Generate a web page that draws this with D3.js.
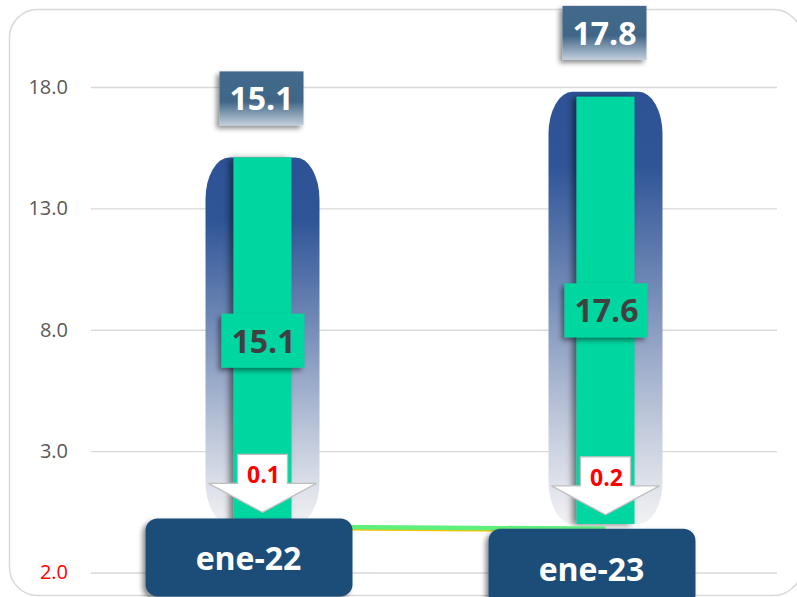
<!DOCTYPE html>
<html>
<head>
<meta charset="utf-8">
<script src="https://cdn.jsdelivr.net/npm/d3@7"></script>
<style>
  html, body { margin: 0; padding: 0; background: #fff; }
  svg { display: block; font-family: 'Open Sans', 'Liberation Sans', sans-serif; }
</style>
</head>
<body>
<div id="chart"></div>
<script>
(function () {
  'use strict';

  // data
  var categories = ['ene-22', 'ene-23'];
  var totalValues = [15.1, 17.8];     // blue capsule
  var innerValues = [15.1, 17.6];     // green bar
  var deltaValues = [-0.1, -0.2];     // line / arrows
  var tickValues = [-2, 3, 8, 13, 18];

  var w = 797,
      h = 597;

  var svg = d3.select('#chart')
    .append('svg')
    .attr('width', w)
    .attr('height', h);

  var defs = svg.append('defs');

  var capGrad = defs.append('linearGradient')
    .attr('id', 'capGrad')
    .attr('x1', 0).attr('y1', 0).attr('x2', 0).attr('y2', 1);
  capGrad.append('stop').attr('offset', '0%').attr('stop-color', '#2D5396');
  capGrad.append('stop').attr('offset', '17%').attr('stop-color', '#2F5597');
  capGrad.append('stop').attr('offset', '45%').attr('stop-color', '#7189B6');
  capGrad.append('stop').attr('offset', '75%').attr('stop-color', '#BCC6D9');
  capGrad.append('stop').attr('offset', '100%').attr('stop-color', '#F2F2F4');

  var topGrad = defs.append('linearGradient')
    .attr('id', 'topGrad')
    .attr('x1', 0).attr('y1', 0).attr('x2', 0).attr('y2', 1);
  topGrad.append('stop').attr('offset', '0%').attr('stop-color', '#436A8C');
  topGrad.append('stop').attr('offset', '55%').attr('stop-color', '#3F6587');
  topGrad.append('stop').attr('offset', '100%').attr('stop-color', '#C3CFDB');

  var shadow = defs.append('filter')
    .attr('id', 'shadow')
    .attr('x', '-30%').attr('y', '-30%').attr('width', '160%').attr('height', '160%');
  shadow.append('feDropShadow')
    .attr('dx', -3).attr('dy', 3).attr('stdDeviation', 2.5)
    .attr('flood-color', '#000').attr('flood-opacity', 0.45);

  var barShadow = defs.append('filter')
    .attr('id', 'barShadow')
    .attr('x', '-30%').attr('y', '-10%').attr('width', '160%').attr('height', '120%');
  barShadow.append('feDropShadow')
    .attr('dx', -4).attr('dy', 1).attr('stdDeviation', 3)
    .attr('flood-color', '#000').attr('flood-opacity', 0.5);

  // outer frame
  svg.append('rect')
    .attr('x', 9.5).attr('y', 9.5)
    .attr('width', 792).attr('height', 586)
    .attr('rx', 28)
    .attr('fill', 'none')
    .attr('stroke', '#d9d9d9')
    .attr('stroke-width', 1.5);

  var left = 91, right = 777;

  var x = d3.scaleBand()
    .domain(categories)
    .range([left, right]);

  var y = d3.scaleLinear()
    .domain([-2, 18])
    .range([572.5, 87]);

  var cx = function (i) { return x(categories[i]) + x.bandwidth() / 2; };

  // grid + axis
  var yAxis = d3.axisLeft(y)
    .tickValues(tickValues)
    .tickSize(-(right - left))
    .tickPadding(23)
    .tickFormat(function (d) { return Math.abs(d).toFixed(1); });

  var gAxis = svg.append('g')
    .attr('transform', 'translate(' + left + ',0)')
    .call(yAxis);
  gAxis.select('.domain').remove();
  gAxis.selectAll('.tick line')
    .attr('stroke', '#d9d9d9')
    .attr('stroke-width', 1.3);
  gAxis.selectAll('.tick text')
    .attr('font-size', 20)
    .attr('font-family', "'Open Sans', sans-serif")
    .attr('fill', function (d) { return d < 0 ? '#ff0000' : '#595959'; });

  var capW = 114, barW = 58;

  // blue capsules
  svg.append('g')
    .selectAll('rect')
    .data(totalValues)
    .enter()
    .append('rect')
    .attr('x', function (d, i) { return cx(i) - capW / 2; })
    .attr('y', function (d) { return y(d); })
    .attr('width', capW)
    .attr('height', function (d) { return y(0) - y(d); })
    .attr('rx', 24).attr('ry', 42)
    .attr('fill', 'url(#capGrad)');

  // green bars
  svg.append('g')
    .selectAll('rect')
    .data(innerValues)
    .enter()
    .append('rect')
    .attr('x', function (d, i) { return cx(i) - barW / 2; })
    .attr('y', function (d) { return y(d); })
    .attr('width', barW)
    .attr('height', function (d) { return y(0) - y(d); })
    .attr('fill', '#06D6A0')
    .attr('filter', 'url(#barShadow)');

  // delta line
  var line = d3.line()
    .x(function (d, i) { return cx(i); })
    .y(function (d) { return y(d); });

  svg.append('path')
    .attr('d', line(deltaValues))
    .attr('transform', 'translate(0,2.5)')
    .attr('fill', 'none')
    .attr('stroke', '#F5C400')
    .attr('stroke-width', 2);
  svg.append('path')
    .attr('d', line(deltaValues))
    .attr('fill', 'none')
    .attr('stroke', '#5FF07C')
    .attr('stroke-width', 4.5);

  // arrows with delta labels
  var arrowPath = function (c, tip) {
    var sw = 25, hw = 54, hh = 29, sh = 29;
    return 'M' + (c - sw) + ',' + (tip - hh - sh) +
      'H' + (c + sw) + 'V' + (tip - hh) +
      'H' + (c + hw) + 'L' + c + ',' + tip +
      'L' + (c - hw) + ',' + (tip - hh) +
      'H' + (c - sw) + 'Z';
  };

  var arrows = svg.append('g')
    .selectAll('g')
    .data(deltaValues)
    .enter()
    .append('g');

  arrows.append('path')
    .attr('d', function (d, i) { return arrowPath(cx(i), y(d) - 14); })
    .attr('fill', '#ffffff')
    .attr('stroke', '#bfbfbf')
    .attr('stroke-width', 1.3);

  arrows.append('text')
    .attr('x', function (d, i) { return cx(i) + 1; })
    .attr('y', function (d) { return y(d) - 14 - 29; })
    .attr('text-anchor', 'middle')
    .attr('font-size', 23)
    .attr('font-weight', 'bold')
    .attr('fill', '#ff0000')
    .text(function (d) { return Math.abs(d).toFixed(1); });

  // green inner labels
  var inLab = svg.append('g')
    .selectAll('g')
    .data(innerValues)
    .enter()
    .append('g');

  inLab.append('rect')
    .attr('x', function (d, i) { return cx(i) - 41; })
    .attr('y', function (d) { return (y(d) + y(0)) / 2 - 27; })
    .attr('width', 83)
    .attr('height', 54)
    .attr('fill', '#06D6A0')
    .attr('filter', 'url(#shadow)');

  inLab.append('text')
    .attr('x', function (d, i) { return cx(i) + 1; })
    .attr('y', function (d) { return (y(d) + y(0)) / 2 + 12; })
    .attr('text-anchor', 'middle')
    .attr('font-size', 32)
    .attr('font-weight', 'bold')
    .attr('fill', '#404040')
    .text(function (d) { return d.toFixed(1); });

  // total labels above capsules
  var topLab = svg.append('g')
    .selectAll('g')
    .data(totalValues)
    .enter()
    .append('g');

  topLab.append('rect')
    .attr('x', function (d, i) { return cx(i) - 43; })
    .attr('y', function (d) { return y(d) - 86; })
    .attr('width', 84)
    .attr('height', 54)
    .attr('fill', 'url(#topGrad)')
    .attr('filter', 'url(#shadow)');

  topLab.append('text')
    .attr('x', function (d, i) { return cx(i) - 1; })
    .attr('y', function (d) { return y(d) - 47; })
    .attr('text-anchor', 'middle')
    .attr('font-size', 32)
    .attr('font-weight', 'bold')
    .attr('fill', '#ffffff')
    .text(function (d) { return d.toFixed(1); });

  // category boxes
  var labelNudge = [-8, 0];
  var catLab = svg.append('g')
    .selectAll('g')
    .data(categories)
    .enter()
    .append('g');

  catLab.append('rect')
    .attr('x', function (d, i) { return cx(i) - 117; })
    .attr('y', function (d, i) { return y(deltaValues[i]) + labelNudge[i]; })
    .attr('width', 207)
    .attr('height', 78)
    .attr('rx', 12)
    .attr('fill', '#1F4E79')
    .attr('filter', 'url(#shadow)');

  catLab.append('text')
    .attr('x', function (d, i) { return cx(i) - 14; })
    .attr('y', function (d, i) { return y(deltaValues[i]) + labelNudge[i] + 52; })
    .attr('text-anchor', 'middle')
    .attr('font-size', 32)
    .attr('font-weight', 'bold')
    .attr('fill', '#ffffff')
    .text(function (d) { return d; });

}());
</script>
</body>
</html>
